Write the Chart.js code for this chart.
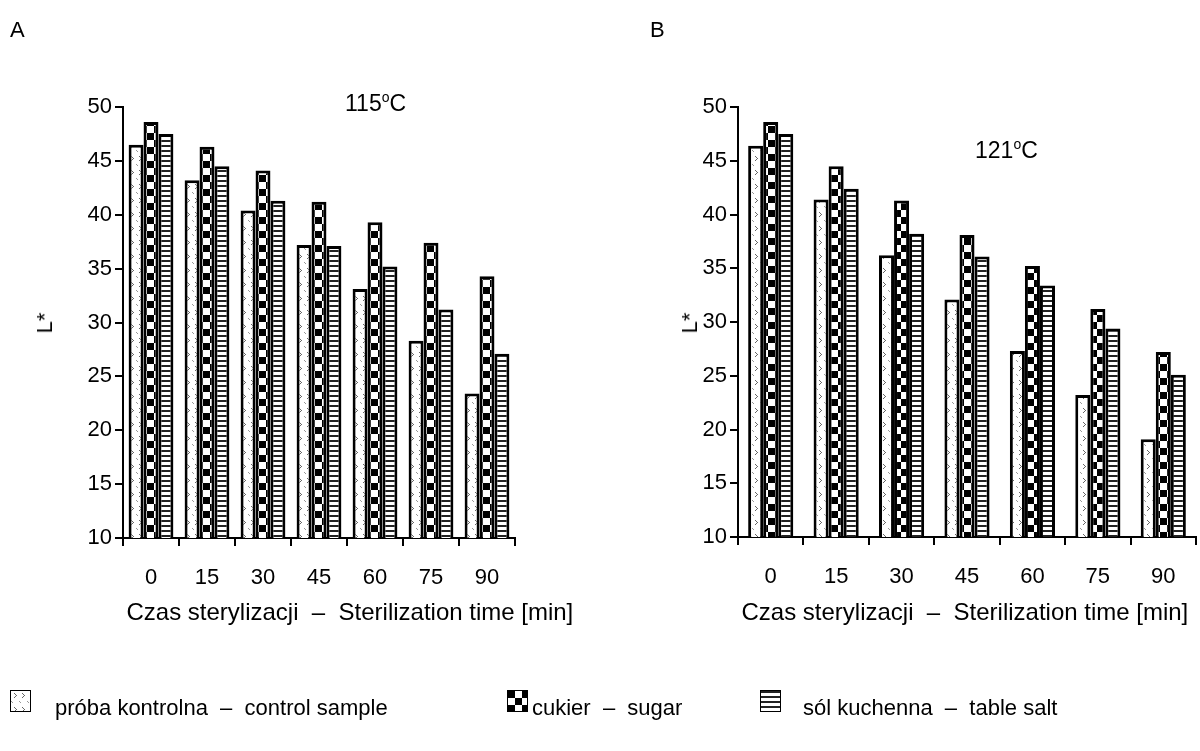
<!DOCTYPE html>
<html>
<head>
<meta charset="utf-8">
<script src="https://cdn.jsdelivr.net/npm/chart.js@4.4.0/dist/chart.umd.min.js"></script>
<style>
  html, body { margin:0; padding:0; background:#fff; }
  body { width:1200px; height:751px; position:relative; overflow:hidden;
         font-family:"Liberation Sans", Arial, sans-serif; color:#000; }
  canvas { position:absolute; top:0; }
  .t { position:absolute; font-size:22px; white-space:nowrap; line-height:24px; }
  .t sup { font-size:14px; vertical-align:9px; line-height:0; }
  .big { font-size:23px; }
  .ax { font-size:24px; }
  .rot { transform: translate(-50%,-50%) rotate(-90deg); }
  .sw { position:absolute; width:21px; height:22px; border:1px solid #000; box-sizing:border-box; }
</style>
</head>
<body>
<canvas id="cA" width="600" height="751" style="left:0"></canvas>
<canvas id="cB" width="600" height="751" style="left:600px"></canvas>

<div class="t" style="left:10px; top:18px;">A</div>
<div class="t" style="left:650px; top:18px;">B</div>
<div class="t big" style="left:345px; top:91px;">115<sup>o</sup>C</div>
<div class="t big" style="left:975px; top:138px;">121<sup>o</sup>C</div>
<div class="t rot" style="left:45px; top:323px;">L*</div>
<div class="t rot" style="left:690px; top:323px;">L*</div>
<div class="t ax" id="xtA" style="top:600px;">Czas sterylizacji &nbsp;– &nbsp;Sterilization time [min]</div>
<div class="t ax" id="xtB" style="top:600px;">Czas sterylizacji &nbsp;– &nbsp;Sterilization time [min]</div>

<div class="sw" id="sw1" style="left:10px; top:690px;"></div>
<div class="t" style="left:55px; top:696px;">próba kontrolna &nbsp;– &nbsp;control sample</div>
<div class="sw" id="sw2" style="left:507px; top:690px;"></div>
<div class="t" style="left:532px; top:696px;">cukier &nbsp;– &nbsp;sugar</div>
<div class="sw" id="sw3" style="left:760px; top:690px;"></div>
<div class="t" style="left:803px; top:696px;">sól kuchenna &nbsp;– &nbsp;table salt</div>

<script>
// ---- data ----
const categories = ['0', '15', '30', '45', '60', '75', '90'];
const seriesNames = ['próba kontrolna – control sample', 'cukier – sugar', 'sól kuchenna – table salt'];
// A: 115 °C
const controlA = [46.5, 43.2, 40.4, 37.2, 33.1, 28.3, 23.4];
const sugarA   = [48.6, 46.3, 44.1, 41.2, 39.3, 37.4, 34.3];
const saltA    = [47.5, 44.5, 41.3, 37.1, 35.2, 31.2, 27.1];
// B: 121 °C
const controlB = [46.4, 41.4, 36.2, 32.1, 27.3, 23.2, 19.1];
const sugarB   = [48.6, 44.5, 41.3, 38.1, 35.2, 31.2, 27.2];
const saltB    = [47.5, 42.4, 38.2, 36.1, 33.4, 29.4, 25.1];
const yMin = 10, yMax = 50, yStep = 5;

// ---- patterns ----
function tile(w, h, draw) {
  const c = document.createElement('canvas');
  c.width = w; c.height = h;
  const g = c.getContext('2d');
  g.fillStyle = '#fff'; g.fillRect(0, 0, w, h);
  draw(g);
  return c;
}
const tControl = tile(8, 14, g => {
  g.fillStyle = '#666';
  g.fillRect(3, 2, 1, 1); g.fillRect(4, 3, 1, 1); g.fillRect(5, 4, 1, 1);
  g.fillRect(4, 5, 1, 1); g.fillRect(3, 6, 1, 1);
  g.fillStyle = '#999';
  g.fillRect(0, 10, 1, 1); g.fillRect(1, 11, 1, 1);
});
const tSugar = tile(14, 14, g => {
  g.fillStyle = '#000';
  g.fillRect(0, 0, 7, 7); g.fillRect(7, 7, 7, 7);
});
const tSalt = tile(4, 5, g => {
  g.fillStyle = '#222';
  g.fillRect(0, 0, 4, 2);
});
const ctxTmp = document.createElement('canvas').getContext('2d');
const pControl = ctxTmp.createPattern(tControl, 'repeat');
const pSugar = ctxTmp.createPattern(tSugar, 'repeat');
const pSalt = ctxTmp.createPattern(tSalt, 'repeat');

[['sw1', tControl], ['sw2', tSugar], ['sw3', tSalt]].forEach(([id, t]) => {
  document.getElementById(id).style.backgroundImage = 'url(' + t.toDataURL() + ')';
});

const FONT = { family: '"Liberation Sans", Arial, sans-serif', size: 22 };

function makeChart(id, data3, cfg) {
  const ds = data3.map((d, i) => ({
    label: seriesNames[i],
    data: d,
    backgroundColor: [pControl, pSugar, pSalt][i],
    borderColor: '#000',
    borderWidth: 3,
    borderSkipped: false,
    barPercentage: 1.0,
    categoryPercentage: cfg.catPct
  }));
  return new Chart(document.getElementById(id), {
    type: 'bar',
    data: { labels: categories, datasets: ds },
    options: {
      responsive: false,
      animation: false,
      devicePixelRatio: 1,
      layout: { padding: { left: 0, top: cfg.top, right: cfg.right, bottom: 0 } },
      plugins: { legend: { display: false }, tooltip: { enabled: false }, title: { display: false } },
      scales: {
        x: {
          afterFit: s => { s.height = 751 - cfg.bottom; },
          grid: { display: true, offset: true, drawOnChartArea: false, drawTicks: true,
                  tickLength: 8, color: '#000', lineWidth: 2 },
          border: { display: true, color: '#000', width: 2 },
          ticks: { color: '#000', font: FONT, padding: 19, maxRotation: 0 }
        },
        y: {
          min: yMin, max: yMax,
          afterFit: s => { s.width = cfg.axisX; },
          grid: { display: true, drawOnChartArea: false, drawTicks: true,
                  tickLength: 8, color: '#000', lineWidth: 2 },
          border: { display: true, color: '#000', width: 2 },
          ticks: { stepSize: yStep, color: '#000', font: FONT, padding: 3 }
        }
      }
    }
  });
}

const chA = makeChart('cA', [controlA, sugarA, saltA], { top: 107, bottom: 538, right: 85, axisX: 123, catPct: 0.8 });
const chB = makeChart('cB', [controlB, sugarB, saltB], { top: 107, bottom: 537, right: 4, axisX: 138, catPct: 0.69 });

function placeCentered(id, cx) {
  const el = document.getElementById(id);
  el.style.left = (cx - el.offsetWidth / 2) + 'px';
}
placeCentered('xtA', 350);
placeCentered('xtB', 965);
</script>
</body>
</html>
